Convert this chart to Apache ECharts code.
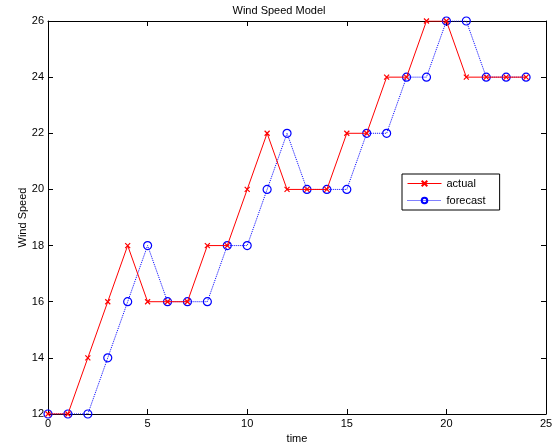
<!DOCTYPE html>
<html>
<head>
<meta charset="utf-8">
<script src="https://cdn.jsdelivr.net/npm/echarts@6/dist/echarts.min.js"></script>
<style>
html,body{margin:0;padding:0;background:#fff;}
#c{width:558px;height:444px;}
</style>
</head>
<body>
<div id="c"></div>
<script>
var time = [0,1,2,3,4,5,6,7,8,9,10,11,12,13,14,15,16,17,18,19,20,21,22,23,24];
var actual = [12,12,14,16,18,16,16,16,18,18,20,22,20,20,20,22,22,24,24,26,26,24,24,24,24];
var forecast = [12,12,12,14,16,18,16,16,16,18,18,20,22,20,20,20,22,22,24,24,26,26,24,24,24];
var xTicks = [0,5,10,15,20,25];
var yTicks = [12,14,16,18,20,22,24,26];

function pairs(xs, ys){ return xs.map(function(x,i){ return [x, ys[i]]; }); }

var font = 'Liberation Sans, Arial, Helvetica, sans-serif';
var chart = echarts.init(document.getElementById('c'), null, {renderer:'canvas'});
var axisBase = {
  axisLine:{show:true, onZero:false, lineStyle:{color:'#000', width:1}},
  axisTick:{show:true, inside:true, length:5, lineStyle:{color:'#000'}},
  splitLine:{show:false}
};
chart.setOption({
  animation:false,
  backgroundColor:'#fff',
  title:{text:'Wind Speed Model', left:'center', top:0, textStyle:{fontFamily:font, fontSize:11, fontWeight:'normal', color:'#000'}},
  grid:{left:48, right:12, top:21, bottom:30, containLabel:false, outerBoundsMode:'none'},
  legend:{
    orient:'vertical', left:402, top:174, padding:[4,14,4,5],
    borderColor:'#000', borderWidth:1, backgroundColor:'#fff',
    itemWidth:34, itemHeight:7, itemGap:6,
    textStyle:{fontFamily:font, fontSize:11, color:'#000'},
    data:[
      {name:'actual', lineStyle:{width:1, type:'solid'}},
      {name:'forecast', lineStyle:{width:1, type:'dotted'}}
    ]
  },
  xAxis:[
    Object.assign({type:'value', min:0, max:25, interval:5, position:'bottom',
      name:'time', nameLocation:'middle', nameGap:19, nameMoveOverlap:false,
      nameTextStyle:{fontFamily:font, fontSize:11, color:'#000'},
      axisLabel:{fontFamily:font, fontSize:11, color:'#000', margin:4,
        formatter:function(v){ return xTicks.indexOf(v)>=0 ? String(v) : ''; }}}, axisBase),
    Object.assign({type:'value', min:0, max:25, interval:5, position:'top', axisLabel:{show:false}}, axisBase)
  ],
  yAxis:[
    Object.assign({type:'value', min:12, max:26, interval:2, position:'left',
      name:'Wind Speed', nameLocation:'middle', nameGap:20, nameRotate:90, nameMoveOverlap:false,
      nameTextStyle:{fontFamily:font, fontSize:11, color:'#000'},
      axisLabel:{fontFamily:font, fontSize:11, color:'#000', margin:4,
        formatter:function(v){ return yTicks.indexOf(v)>=0 ? String(v) : ''; }}}, axisBase),
    Object.assign({type:'value', min:12, max:26, interval:2, position:'right', axisLabel:{show:false}}, axisBase)
  ],
  series:[
    {
      name:'forecast', type:'line', data:pairs(time, forecast), z:3,
      symbol:'circle', symbolSize:8, showAllSymbol:true,
      lineStyle:{color:'#0000ff', width:1, type:'dotted'},
      itemStyle:{color:'rgba(0,0,0,0)', borderColor:'#0000ff', borderWidth:1.2}
    },
    {
      name:'actual', type:'line', data:pairs(time, actual), z:4,
      symbol:'path://M0,0L10,10M10,0L0,10', symbolSize:5, showAllSymbol:true,
      lineStyle:{color:'#ff0000', width:1},
      itemStyle:{color:'#ff0000', borderColor:'#ff0000', borderWidth:1.2}
    }
  ]
});
</script>
</body>
</html>
